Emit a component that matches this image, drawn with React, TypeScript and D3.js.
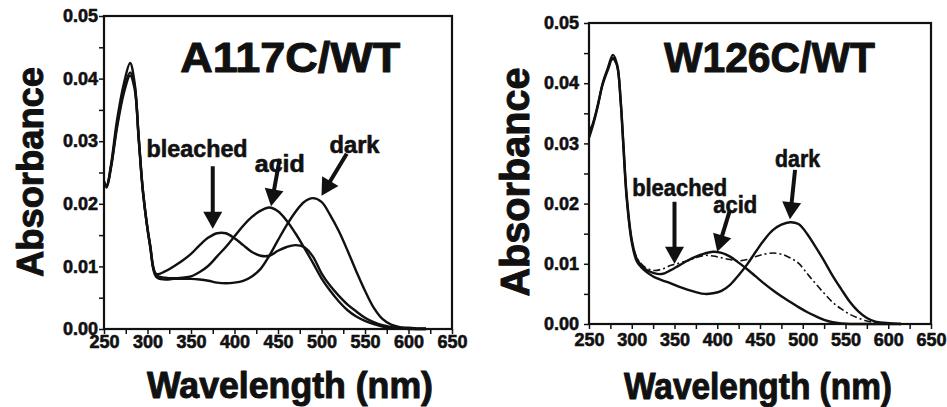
import React, { useEffect, useRef } from 'react';
import * as d3 from 'd3';

// ---- A117C/WT panel ----
const wlA117 = [250, 253, 258, 265, 273, 280, 285, 290, 295, 303, 310,
  320, 330, 340, 350, 360, 370, 380, 390, 400, 410, 420, 430, 440, 450, 460, 470,
  480, 490, 500, 510, 520, 530, 540, 550, 560, 570, 580, 590, 600, 610, 620];
const darkA117 = [0.0236, 0.0228, 0.0262, 0.0334, 0.0393, 0.0425, 0.0395, 0.0305, 0.0217, 0.0132, 0.0083,
  0.0079, 0.0080, 0.0080, 0.0080, 0.0079, 0.0077, 0.0074, 0.0073, 0.0074, 0.0077, 0.0084, 0.0096, 0.0117, 0.0142, 0.0166, 0.0187,
  0.0203, 0.0209, 0.0203, 0.0182, 0.0156, 0.0125, 0.0092, 0.0061, 0.0034, 0.0016, 0.0007, 0.0003, 0.0002, 0.0001, 0.0001];
const acidA117 = [0.0233, 0.0226, 0.0257, 0.0322, 0.0378, 0.0405, 0.0385, 0.0300, 0.0215, 0.0133, 0.0086,
  0.0082, 0.0081, 0.0082, 0.0084, 0.0091, 0.0101, 0.0116, 0.0131, 0.0148, 0.0165, 0.0179, 0.0189, 0.0194, 0.0188, 0.0173, 0.0153,
  0.0130, 0.0106, 0.0081, 0.0061, 0.0044, 0.0030, 0.0020, 0.0013, 0.0008, 0.0004, 0.0002, 0.0001, 0.0000, 0.0000, 0.0000];
const bleachedA117 = [0.0235, 0.0229, 0.0259, 0.0326, 0.0383, 0.0410, 0.0390, 0.0303, 0.0218, 0.0135, 0.0088,
  0.0092, 0.0100, 0.0109, 0.0120, 0.0134, 0.0146, 0.0153, 0.0153, 0.0145, 0.0134, 0.0123, 0.0117, 0.0117, 0.0125, 0.0131, 0.0134,
  0.0131, 0.0116, 0.0089, 0.0069, 0.0053, 0.0039, 0.0028, 0.0018, 0.0011, 0.0006, 0.0003, 0.0001, 0.0001, 0.0000, 0.0000];

// ---- W126C/WT panel ----
const wlW126 = [250, 255, 260, 266, 272, 278, 283, 287, 290, 294, 300, 306, 315,
  325, 335, 345, 355, 365, 375, 385, 395, 405, 415, 425, 435, 445, 455, 465, 475,
  485, 495, 505, 515, 525, 535, 545, 555, 565, 575, 585, 595, 605, 615];
const darkW126 = [0.0309, 0.0332, 0.0360, 0.0400, 0.0425, 0.0447, 0.0430, 0.0370, 0.0300, 0.0210, 0.0136, 0.0104, 0.0089,
  0.0079, 0.0073, 0.0068, 0.0062, 0.0057, 0.0053, 0.0050, 0.0051, 0.0055, 0.0065, 0.0081, 0.0099, 0.0120, 0.0140, 0.0156, 0.0165,
  0.0169, 0.0166, 0.0150, 0.0128, 0.0105, 0.0080, 0.0058, 0.0037, 0.0021, 0.0010, 0.0004, 0.0002, 0.0001, 0.0000];
const acidW126 = [0.0319, 0.0336, 0.0361, 0.0399, 0.0423, 0.0440, 0.0426, 0.0371, 0.0303, 0.0213, 0.0140, 0.0110, 0.0095,
  0.0089, 0.0091, 0.0097, 0.0101, 0.0105, 0.0110, 0.0114, 0.0113, 0.0110, 0.0107, 0.0105, 0.0107, 0.0112, 0.0116, 0.0118, 0.0116,
  0.0110, 0.0101, 0.0084, 0.0067, 0.0051, 0.0036, 0.0025, 0.0016, 0.0010, 0.0005, 0.0002, 0.0001, 0.0000, 0.0000];
const bleachedW126 = [0.0316, 0.0335, 0.0362, 0.0398, 0.0422, 0.0442, 0.0428, 0.0372, 0.0305, 0.0215, 0.0140, 0.0108, 0.0092,
  0.0085, 0.0083, 0.0089, 0.0097, 0.0105, 0.0112, 0.0117, 0.0120, 0.0118, 0.0112, 0.0102, 0.0091, 0.0079, 0.0067, 0.0056, 0.0046,
  0.0037, 0.0028, 0.0020, 0.0013, 0.0007, 0.0003, 0.0001, 0.0000, 0.0000, 0.0000, 0.0000, 0.0000, 0.0000, 0.0000];

// labels + arrows, anchored in data units (nm, absorbance)
const notesA117 = [
  { text: 'bleached', tx: 357, ty: 0.0275, from: [375, 0.026], to: [375, 0.0160], len: 101 },
  { text: 'acid', tx: 452, ty: 0.0251, from: [452, 0.0272], to: [442, 0.0196], len: 50 },
  { text: 'dark', tx: 538, ty: 0.0281, from: [529, 0.0280], to: [500, 0.0213], len: 50 },
];
const notesW126 = [
  { text: 'bleached', tx: 356, ty: 0.0213, from: [350, 0.0203], to: [350, 0.0100], len: 95 },
  { text: 'acid', tx: 421, ty: 0.0184, from: [415, 0.0190], to: [400, 0.0120], len: 44 },
  { text: 'dark', tx: 494, ty: 0.0261, from: [491, 0.0256], to: [485, 0.0174], len: 45 },
];

const xTicks = d3.range(250, 651, 25);
const yTicks = d3.range(0, 11).map(i => i * 0.005);

const FONT = '"Liberation Sans", Arial, Helvetica, sans-serif';
const INK = '#111';

const panels = [
  {
    title: 'A117C/WT', titleX: 464, titleY: 0.0411, titleLen: 220,
    wl: wlA117,
    series: [
      { values: darkA117 },
      { values: acidA117 },
      { values: bleachedA117 },
    ],
    notes: notesA117,
    box: { left: 104, right: 452, top: 16, bottom: 329 },
    yPad: 1, xPad: 1,
    yLab: { x: 43, y: 172, len: 210, size: 37 },
    xLab: { x: 290, y: 398, len: 286, size: 36 },
  },
  {
    title: 'W126C/WT', titleX: 461, titleY: 0.0419, titleLen: 211,
    wl: wlW126,
    series: [
      { values: darkW126 },
      { values: bleachedW126 },
      { values: acidW126, dash: '7 3 2 3', width: 1.6 },
    ],
    notes: notesW126,
    box: { left: 589, right: 931, top: 23, bottom: 324 },
    yPad: 5, xPad: 4,
    yLab: { x: 529, y: 182, len: 229, size: 40 },
    xLab: { x: 758, y: 399, len: 268, size: 36 },
  },
];

// bold text with a thin outline so it reads as heavy as the scanned figure
const heavy = (sel: any, size: number, outline: number) =>
  sel.attr('font-family', FONT).attr('font-weight', 'bold').attr('font-size', size)
    .attr('fill', INK).attr('stroke', INK).attr('stroke-width', outline)
    .attr('stroke-linejoin', 'round');

const App = () => {
  const ref = useRef<SVGSVGElement>(null);

  useEffect(() => {
    const svg = d3.select(ref.current);
    svg.selectAll('*').remove();

    panels.forEach(p => {
      const { left, right, top, bottom } = p.box;
      const x = d3.scaleLinear().domain([250, 650]).range([left, right]);
      const y = d3.scaleLinear().domain([0, 0.05]).range([bottom, top]);
      const g = svg.append('g');

      // axes
      const ya = g.append('g')
        .attr('transform', `translate(${left},0)`)
        .call(d3.axisLeft(y).tickValues(yTicks).tickSize(5).tickPadding(p.yPad)
          .tickFormat((d: any) => (Math.round(d * 1000) % 10 === 0 ? d3.format('.2f')(d) : '')));
      const xa = g.append('g')
        .attr('transform', `translate(0,${bottom})`)
        .call(d3.axisBottom(x).tickValues(xTicks).tickSize(5).tickPadding(p.xPad)
          .tickFormat((d: any) => (d % 50 === 0 ? String(d) : '')));
      [ya, xa].forEach(a => {
        a.select('.domain').remove();
        a.selectAll('line').attr('stroke', INK).attr('stroke-width', 1.5);
        heavy(a.selectAll('text'), 18, 0.6);
      });

      // frame
      g.append('rect')
        .attr('x', left).attr('y', top)
        .attr('width', right - left).attr('height', bottom - top)
        .attr('fill', 'none').attr('stroke', INK).attr('stroke-width', 2.2);

      // spectra
      p.series.forEach(s => {
        const line = d3.line<number>()
          .x((_, i) => x(p.wl[i]))
          .y(d => y(d))
          .curve(d3.curveCatmullRom.alpha(0.5));
        g.append('path')
          .attr('d', line(s.values))
          .attr('fill', 'none')
          .attr('stroke', INK)
          .attr('stroke-width', s.width || 2.4)
          .attr('stroke-dasharray', s.dash || null)
          .attr('stroke-linejoin', 'round');
      });

      // title
      heavy(g.append('text'), 42, 1)
        .attr('x', x(p.titleX)).attr('y', y(p.titleY))
        .attr('text-anchor', 'middle')
        .attr('textLength', p.titleLen).attr('lengthAdjust', 'spacingAndGlyphs')
        .text(p.title);

      // annotations
      p.notes.forEach(n => {
        heavy(g.append('text'), 23, 0.6)
          .attr('x', x(n.tx)).attr('y', y(n.ty))
          .attr('text-anchor', 'middle')
          .attr('textLength', n.len).attr('lengthAdjust', 'spacingAndGlyphs')
          .text(n.text);
        const x0 = x(n.from[0]), y0 = y(n.from[1]);
        const x1 = x(n.to[0]), y1 = y(n.to[1]);
        const dx = x1 - x0, dy = y1 - y0;
        const L = Math.hypot(dx, dy);
        const ux = dx / L, uy = dy / L;
        const head = 17, half = 9.5;
        const bx = x1 - ux * head, by = y1 - uy * head;
        g.append('line')
          .attr('x1', x0).attr('y1', y0)
          .attr('x2', bx + ux * 2).attr('y2', by + uy * 2)
          .attr('stroke', INK).attr('stroke-width', 4);
        g.append('polygon')
          .attr('points', [
            [x1, y1],
            [bx - uy * half, by + ux * half],
            [bx + uy * half, by - ux * half],
          ].map(pt => pt.join(',')).join(' '))
          .attr('fill', INK);
      });

      // axis titles
      heavy(g.append('text'), p.yLab.size, 1)
        .attr('transform', `translate(${p.yLab.x},${p.yLab.y}) rotate(-90)`)
        .attr('text-anchor', 'middle')
        .attr('textLength', p.yLab.len).attr('lengthAdjust', 'spacingAndGlyphs')
        .text('Absorbance');
      heavy(g.append('text'), p.xLab.size, 1)
        .attr('x', p.xLab.x).attr('y', p.xLab.y)
        .attr('text-anchor', 'middle')
        .attr('textLength', p.xLab.len).attr('lengthAdjust', 'spacingAndGlyphs')
        .text('Wavelength (nm)');
    });
  }, []);

  return (
    <svg
      ref={ref}
      width={947}
      height={407}
      style={{ position: 'absolute', left: 0, top: 0, background: '#fff' }}
    />
  );
};

export default App;
